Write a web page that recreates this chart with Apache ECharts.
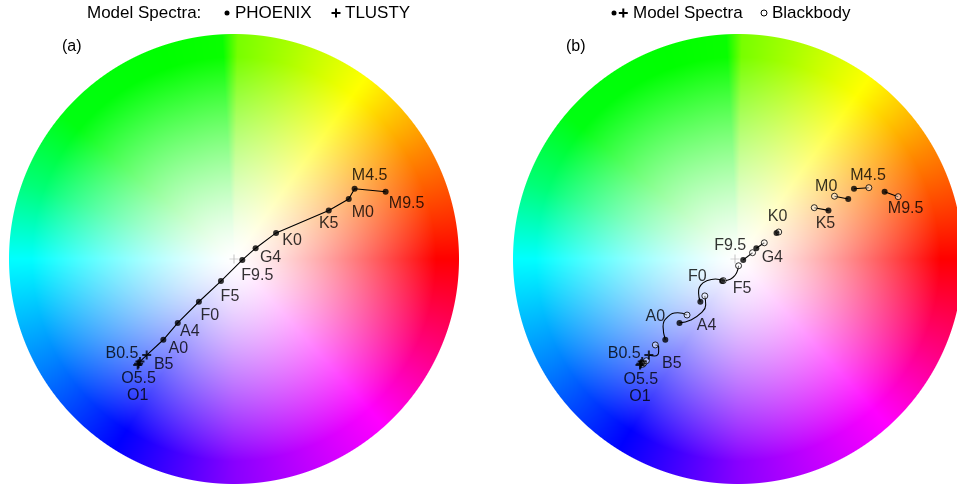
<!DOCTYPE html>
<html>
<head>
<meta charset="utf-8">
<script src="https://cdn.jsdelivr.net/npm/echarts@6/dist/echarts.min.js"></script>
<style>
  html, body { margin: 0; padding: 0; background: #fff; }
  #main { width: 957px; height: 486px; }
</style>
</head>
<body>
<div id="main"></div>
<script>
// spectral types, hot -> cool (coords are in wheel units, radius = 1)
var tlustyTypes = ['O1', 'O5.5', 'B0.5', 'B5'];
var tlustyX = [-0.428, -0.424, -0.418, -0.388];
var tlustyY = [-0.471, -0.465, -0.456, -0.427];

var phoenixTypes = ['A0', 'A4', 'F0', 'F5', 'F9.5', 'G4', 'K0', 'K5', 'M0', 'M4.5', 'M9.5'];
var phoenixX = [-0.314, -0.250, -0.156, -0.058, 0.037, 0.096, 0.187, 0.421, 0.510, 0.536, 0.674];
var phoenixY = [-0.359, -0.284, -0.190, -0.098, -0.004, 0.048, 0.116, 0.216, 0.267, 0.312, 0.299];

// blackbody colour for each type (same order as tlustyTypes + phoenixTypes)
var bbX = [-0.416, -0.411, -0.399, -0.359, -0.216, -0.136, -0.053, 0.016, 0.079, 0.132, 0.197, 0.357, 0.448, 0.603, 0.735];
var bbY = [-0.468, -0.463, -0.452, -0.382, -0.249, -0.164, -0.096, -0.030, 0.028, 0.072, 0.120, 0.228, 0.279, 0.317, 0.277];

// curved tracks model -> blackbody (panel b)
var trackB5 = [[-0.388, -0.427], [-0.363, -0.431], [-0.344, -0.412], [-0.344, -0.390], [-0.359, -0.382]];
var trackA0 = [[-0.314, -0.359], [-0.324, -0.301], [-0.302, -0.256], [-0.258, -0.239], [-0.216, -0.249]];
var trackA4 = [[-0.250, -0.284], [-0.199, -0.271], [-0.154, -0.241], [-0.132, -0.204], [-0.136, -0.164]];
var trackF0 = [[-0.156, -0.190], [-0.164, -0.152], [-0.154, -0.116], [-0.124, -0.096], [-0.088, -0.089], [-0.053, -0.096]];
var trackF5 = [[-0.058, -0.098], [-0.021, -0.090], [0.001, -0.071], [0.012, -0.049], [0.016, -0.030]];

// label offsets in px (layout only)
var labelOffA = [[0, 31], [0, 15], [-18, -8], [17, 10], [15, 9], [12, 9], [11, 14], [9, 16], [15, 16], [15, 9], [16, 8], [0, 13], [14, 14], [15, -13], [21, 12]];
var labelOffB = [[0, 32], [0, 16], [-18, -8], [23, 9], [-10, -23], [27, 3], [-3, -25], [20, 8], [-13, -14], [16, 9], [1, -16], [-3, 13], [-22, -12], [14, -13], [21, 17]];

var FONT = "'Liberation Sans', Arial, sans-serif";
var allTypes = tlustyTypes.concat(phoenixTypes);
var allX = tlustyX.concat(phoenixX);
var allY = tlustyY.concat(phoenixY);

function zip(xs, ys) {
  return xs.map(function (x, i) { return [x, ys[i]]; });
}

// ---- colour wheel background ----
var hueMap = [[0, 0], [30, 32], [52, 58], [75, 80], [89, 92], [93, 118], [140, 124], [160, 148], [180, 180], [210, 210], [238, 240], [270, 272], [312, 300], [335, 330], [360, 360]];
function hueAt(t) {
  for (var i = 1; i < hueMap.length; i++) {
    if (t <= hueMap[i][0]) {
      var a = hueMap[i - 1], b = hueMap[i];
      return a[1] + (b[1] - a[1]) * (t - a[0]) / (b[0] - a[0]);
    }
  }
  return 360;
}
function hsv(h, s) {
  h = (h % 360) / 60;
  var i = Math.floor(h), f = h - i;
  var p = 1 - s, q = 1 - s * f, t = 1 - s * (1 - f);
  var rgb = [[1, t, p], [q, 1, p], [p, 1, t], [p, q, 1], [t, p, 1], [1, p, q]][i];
  return rgb.map(function (v) { return Math.round(v * 255); });
}
function makeWheel(size) {
  var c = document.createElement('canvas');
  c.width = c.height = size;
  var ctx = c.getContext('2d');
  var img = ctx.createImageData(size, size);
  var R = size / 2;
  for (var y = 0; y < size; y++) {
    for (var x = 0; x < size; x++) {
      var px = x + 0.5 - R, py = R - (y + 0.5);
      var r = Math.sqrt(px * px + py * py) / R;
      var alpha = Math.max(0, Math.min(1, (1 - r) * R + 0.5));
      if (alpha <= 0) continue;
      var t = Math.atan2(py, px) * 180 / Math.PI;
      if (t < 0) t += 360;
      var s = Math.min(1, Math.pow(r, 1.3) * 1.15);
      var col = hsv(hueAt(t), s);
      var k = (y * size + x) * 4;
      img.data[k] = col[0]; img.data[k + 1] = col[1]; img.data[k + 2] = col[2];
      img.data[k + 3] = Math.round(alpha * 255);
    }
  }
  ctx.putImageData(img, 0, 0);
  return c;
}
var wheel = makeWheel(450);

var chart = echarts.init(document.getElementById('main'));

var plusPath = 'path://M3.9,0H6.1V3.9H10V6.1H6.1V10H3.9V6.1H0V3.9H3.9Z';
var crossPath = 'path://M4.6,0H5.4V4.6H10V5.4H5.4V10H4.6V5.4H0V4.6H4.6Z';

function labelSeries(idx, offs) {
  return {
    type: 'scatter', xAxisIndex: idx, yAxisIndex: idx, symbolSize: 1, z: 10,
    itemStyle: { color: 'transparent' },
    label: {
      show: true, position: 'inside', formatter: '{b}', color: '#000',
      textBorderWidth: 0, textBorderColor: 'transparent', textShadowBlur: 0,
      fontSize: 16, fontFamily: FONT
    },
    data: allTypes.map(function (n, i) {
      return { name: n, value: [allX[i], allY[i]], label: { offset: offs[i] } };
    })
  };
}
function centreMark(idx) {
  return [
    { type: 'scatter', xAxisIndex: idx, yAxisIndex: idx, symbol: 'emptyCircle', symbolSize: 5, z: 3,
      itemStyle: { color: 'transparent', borderColor: '#999', borderWidth: 1 }, data: [[0, 0]] },
    { type: 'scatter', xAxisIndex: idx, yAxisIndex: idx, symbol: crossPath, symbolSize: 9, z: 3,
      itemStyle: { color: '#999' }, data: [[0, 0]] }
  ];
}
function modelPoints(idx) {
  return [
    { type: 'scatter', name: 'PHOENIX', xAxisIndex: idx, yAxisIndex: idx, symbol: 'circle', symbolSize: 6, z: 5,
      itemStyle: { color: '#000' }, data: zip(phoenixX, phoenixY) },
    { type: 'scatter', name: 'TLUSTY', xAxisIndex: idx, yAxisIndex: idx, symbol: plusPath, symbolSize: 9, z: 5,
      itemStyle: { color: '#000' }, data: zip(tlustyX, tlustyY) }
  ];
}

// tracks for panel (b): curved ones where read, straight otherwise
var curved = { 'B5': trackB5, 'A0': trackA0, 'A4': trackA4, 'F0': trackF0, 'F5': trackF5 };
var trackSeries = allTypes.map(function (n, i) {
  var d = curved[n] || [[allX[i], allY[i]], [bbX[i], bbY[i]]];
  return {
    type: 'line', xAxisIndex: 1, yAxisIndex: 1, symbol: 'none', smooth: 0.5, z: 3,
    lineStyle: { color: '#000', width: 1.1 }, data: d
  };
});

var axisCommon = { type: 'value', min: -1, max: 1, show: false };

var series = [
  { type: 'line', xAxisIndex: 0, yAxisIndex: 0, symbol: 'none', z: 3,
    lineStyle: { color: '#000', width: 1.1 }, data: zip(allX, allY) }
]
  .concat(modelPoints(0))
  .concat(centreMark(0))
  .concat([labelSeries(0, labelOffA)])
  .concat(trackSeries)
  .concat([{ type: 'scatter', name: 'Blackbody', xAxisIndex: 1, yAxisIndex: 1, symbol: 'circle', symbolSize: 6, z: 4,
    itemStyle: { color: 'rgba(255,255,255,0.55)', borderColor: '#000', borderWidth: 1 }, data: zip(bbX, bbY) }])
  .concat(modelPoints(1))
  .concat(centreMark(1))
  .concat([labelSeries(1, labelOffB)]);

function txt(x, y, s, size) {
  return { type: 'text', x: x, y: y, style: { text: s, fill: '#000', font: (size || 17) + 'px ' + FONT, verticalAlign: 'middle' } };
}
function plusMark(cx, cy) {
  return [
    { type: 'rect', shape: { x: cx - 4.5, y: cy - 1, width: 9, height: 2 }, style: { fill: '#000' } },
    { type: 'rect', shape: { x: cx - 1, y: cy - 4.5, width: 2, height: 9 }, style: { fill: '#000' } }
  ];
}

chart.setOption({
  animation: false,
  backgroundColor: '#fff',
  grid: [
    { left: 9, top: 34, width: 450, height: 450 },
    { left: 513, top: 34, width: 450, height: 450 }
  ],
  xAxis: [Object.assign({ gridIndex: 0 }, axisCommon), Object.assign({ gridIndex: 1 }, axisCommon)],
  yAxis: [Object.assign({ gridIndex: 0 }, axisCommon), Object.assign({ gridIndex: 1 }, axisCommon)],
  graphic: [
    { type: 'image', x: 9, y: 34, z: -1, silent: true, style: { image: wheel, width: 450, height: 450 } },
    { type: 'image', x: 513, y: 34, z: -1, silent: true, style: { image: wheel, width: 450, height: 450 } },
    txt(87, 13, 'Model Spectra:'),
    { type: 'circle', shape: { cx: 227, cy: 13, r: 2.5 }, style: { fill: '#000' } },
    txt(235, 13, 'PHOENIX'),
    txt(345, 13, 'TLUSTY'),
    { type: 'circle', shape: { cx: 614, cy: 13, r: 2.5 }, style: { fill: '#000' } },
    txt(633, 13, 'Model Spectra'),
    { type: 'circle', shape: { cx: 764, cy: 13, r: 3 }, style: { fill: '#fff', stroke: '#000', lineWidth: 1 } },
    txt(772, 13, 'Blackbody'),
    txt(62, 47, '(a)', 16),
    txt(566, 47, '(b)', 16)
  ].concat(plusMark(336, 13)).concat(plusMark(623.3, 13)),
  series: series
});
</script>
</body>
</html>
